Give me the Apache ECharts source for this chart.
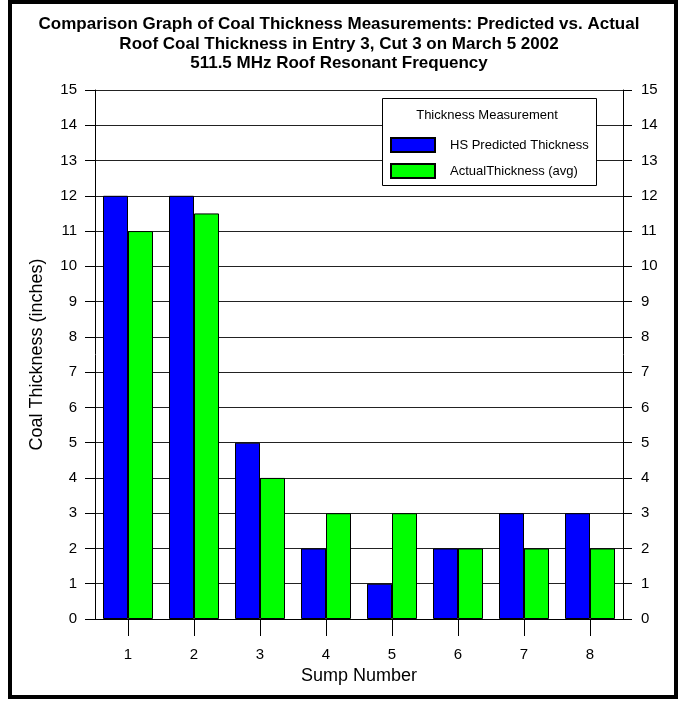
<!DOCTYPE html>
<html>
<head>
<meta charset="utf-8">
<script src="https://cdn.jsdelivr.net/npm/echarts@6/dist/echarts.min.js"></script>
<style>
  html, body { margin: 0; padding: 0; background: #fff; }
  #chart { width: 678px; height: 703px; }
</style>
</head>
<body>
<div id="chart"></div>
<script>
// Sump numbers along the x axis
const sumps = ['1', '2', '3', '4', '5', '6', '7', '8'];
// Coal thickness values (inches)
const predicted = [12, 12, 5, 2, 1, 2, 3, 3];
const actual = [11, 11.5, 4, 3, 3, 2, 2, 2];

const titleLines = [
  'Comparison Graph of Coal Thickness Measurements: Predicted vs. Actual',
  'Roof Coal Thickness in Entry 3, Cut 3 on March 5 2002',
  '511.5 MHz Roof Resonant Frequency'
];
const seriesNames = ['HS Predicted Thickness', 'ActualThickness (avg)'];
const legendTitle = 'Thickness Measurement';

const FONT = '"Liberation Sans", Arial, Helvetica, sans-serif';

const yAxisCommon = {
  type: 'value',
  min: 0,
  max: 15,
  interval: 1,
  axisLine: { show: true, lineStyle: { color: '#000', width: 1 } },
  axisTick: { show: true, length: 10, lineStyle: { color: '#000' } },
  axisLabel: { color: '#000', fontSize: 15, fontFamily: FONT, margin: 18 },
  splitLine: { show: false }
};

const chart = echarts.init(document.getElementById('chart'), null, { renderer: 'canvas' });
chart.setOption({
  backgroundColor: '#fff',
  animation: false,
  title: {
    text: titleLines.join('\n'),
    left: 'center',
    top: 10,
    textStyle: { fontFamily: FONT, fontWeight: 'bold', fontSize: 17, lineHeight: 19.5, color: '#000' }
  },
  grid: { left: 95, right: 55, top: 90, bottom: 84, containLabel: false },
  legend: {
    orient: 'vertical',
    left: 390,
    top: 137,
    itemWidth: 44,
    itemHeight: 14,
    itemGap: 10,
    padding: 0,
    icon: 'rect',
    data: seriesNames,
    selectedMode: false,
    z: 60,
    textStyle: { fontFamily: FONT, fontSize: 13, color: '#000', padding: [0, 0, 0, 10] }
  },
  graphic: [
    {
      type: 'rect',
      shape: { x: 10, y: 2, width: 666, height: 695 },
      style: { fill: 'none', stroke: '#000', lineWidth: 4 },
      z: 100
    },
    {
      type: 'rect',
      shape: { x: 382.5, y: 98.5, width: 214, height: 87 },
      style: { fill: '#fff', stroke: '#000', lineWidth: 1 },
      z: 50
    },
    {
      type: 'text',
      x: 487,
      y: 115,
      style: {
        text: legendTitle,
        fontFamily: FONT,
        fontSize: 13,
        fill: '#000',
        textAlign: 'center',
        textVerticalAlign: 'middle'
      },
      z: 51
    }
  ],
  xAxis: {
    type: 'category',
    data: sumps,
    name: 'Sump Number',
    nameLocation: 'middle',
    nameGap: 47,
    nameTextStyle: { fontFamily: FONT, fontSize: 18, color: '#000' },
    axisLine: { show: true, lineStyle: { color: '#000', width: 1 } },
    axisTick: { show: true, alignWithLabel: true, length: 17, lineStyle: { color: '#000' } },
    axisLabel: { color: '#000', fontSize: 15, fontFamily: FONT, margin: 28 },
    splitLine: { show: false }
  },
  yAxis: [
    Object.assign({}, yAxisCommon, {
      position: 'left',
      name: 'Coal Thickness (inches)',
      nameLocation: 'middle',
      nameRotate: 90,
      nameGap: 49,
      nameTextStyle: { fontFamily: FONT, fontSize: 18, color: '#000' },
      splitLine: { show: true, lineStyle: { color: '#222', width: 1 } }
    }),
    Object.assign({}, yAxisCommon, { position: 'right', axisTick: { show: true, length: 9, lineStyle: { color: '#000' } } })
  ],
  series: [
    {
      name: seriesNames[0],
      type: 'bar',
      data: predicted,
      barWidth: 25,
      barGap: '0%',
      itemStyle: { color: '#0000ff', borderColor: '#000', borderWidth: 1 },
      z: 3
    },
    {
      name: seriesNames[1],
      type: 'bar',
      data: actual,
      barWidth: 25,
      barGap: '0%',
      itemStyle: { color: '#00ff00', borderColor: '#000', borderWidth: 1 },
      z: 3
    }
  ]
});
</script>
</body>
</html>
